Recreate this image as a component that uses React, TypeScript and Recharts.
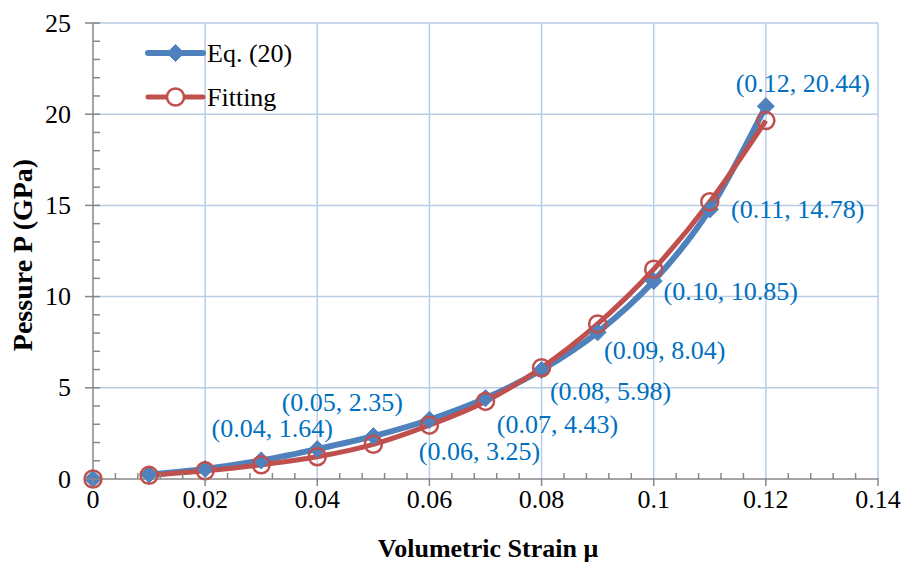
import React from 'react';
import {
  ComposedChart, Line, Scatter, XAxis, YAxis, CartesianGrid, LabelList, Customized,
} from 'recharts';

// ---------- data ----------
const strain = [0, 0.01, 0.02, 0.03, 0.04, 0.05, 0.06, 0.07, 0.08, 0.09, 0.1, 0.11, 0.12];
const eq20 = [0, 0.25, 0.55, 1.02, 1.64, 2.35, 3.25, 4.43, 5.98, 8.04, 10.85, 14.78, 20.44];
const fitting = [0, 0.2, 0.45, 0.78, 1.22, 1.9, 2.95, 4.25, 6.1, 8.5, 11.5, 15.2, 19.65];
const seriesNames = ['Eq. (20)', 'Fitting'];
const xMajorTicks = [0, 0.02, 0.04, 0.06, 0.08, 0.1, 0.12, 0.14];
const yMajorTicks = [0, 5, 10, 15, 20, 25];
const xTitle = 'Volumetric Strain μ';
const yTitle = 'Pessure P (GPa)';

// ---------- styles ----------
const BLUE = '#4F81BD';
const RED = '#C0504D';
const LABEL_BLUE = '#0070C0';
const GRID = '#B9CDE5';
const AXIS = '#878787';
const FONT = '"Liberation Serif", "Times New Roman", serif';
const FS = 26;
// label offsets (dx, dy) from the point, per row index
const LABEL_OFFSETS: (number[] | null)[] = [
  null, null, null, null,
  [-45, -21], [-31, -34], [50, 32], [72, 26], [69, 22], [67, 18], [77, 10], [88, 0], [37, -23],
];

const rows = strain.map((s, i) => ({
  strain: s,
  eq: eq20[i],
  fit: fitting[i],
  label: `(${s.toFixed(2)}, ${eq20[i].toFixed(2)})`,
}));
const lineRows = rows.slice(1);
const originRows = rows.slice(0, 1);

const xMinor: number[] = [];
for (let i = 0; i <= 35; i++) xMinor.push(Number((i * 0.004).toFixed(3)));
const yMinor: number[] = [];
for (let i = 0; i <= 25; i++) yMinor.push(i);

const isMajorX = (v: number) => xMajorTicks.some((m) => Math.abs(m - v) < 1e-9);
const isMajorY = (v: number) => yMajorTicks.some((m) => Math.abs(m - v) < 1e-9);

const XTick = (props: any) => {
  const { x, y, payload } = props;
  const v = payload.value;
  if (isMajorX(v)) {
    return (
      <g>
        <line x1={x} x2={x} y1={y - 1} y2={y + 7} stroke={AXIS} strokeWidth={1.5} />
        <text x={x} y={y + 29} textAnchor="middle" fontFamily={FONT} fontSize={FS} fill="#000">
          {String(Number(v.toFixed(3)))}
        </text>
      </g>
    );
  }
  return <line x1={x} x2={x} y1={y - 6} y2={y} stroke={AXIS} strokeWidth={1.5} />;
};

const YTick = (props: any) => {
  const { x, y, payload } = props;
  const v = payload.value;
  if (isMajorY(v)) {
    return (
      <g>
        <line x1={x - 8} x2={x + 7} y1={y} y2={y} stroke={AXIS} strokeWidth={1.5} />
        <text x={x - 22} y={y} textAnchor="end" dominantBaseline="central" fontFamily={FONT} fontSize={FS} fill="#000">
          {v}
        </text>
      </g>
    );
  }
  return <line x1={x} x2={x + 7} y1={y} y2={y} stroke={AXIS} strokeWidth={1.5} />;
};

const Diamond = (props: any) => {
  const { cx, cy } = props;
  if (cx == null || cy == null) return null;
  const s = 8.5;
  return <path d={`M${cx},${cy - s}L${cx + s},${cy}L${cx},${cy + s}L${cx - s},${cy}Z`} fill={BLUE} stroke={BLUE} strokeWidth={1} />;
};

const Ring = (props: any) => {
  const { cx, cy } = props;
  if (cx == null || cy == null) return null;
  return <circle cx={cx} cy={cy} r={8.5} fill="none" stroke={RED} strokeWidth={2.5} />;
};

const renderLabel = (props: any) => {
  const { x, y, index, value } = props;
  const off = LABEL_OFFSETS[index + 1];
  if (!off) return null;
  return (
    <text x={x + off[0]} y={y + off[1]} textAnchor="middle" dominantBaseline="central"
      fontFamily={FONT} fontSize={FS} fill={LABEL_BLUE}>
      {value}
    </text>
  );
};

const LegendBox = () => {
  const lx = 148, rx = 203, tx = 207;
  const y1 = 53, y2 = 97;
  return (
    <g>
      <line x1={lx} x2={rx} y1={y1} y2={y1} stroke={BLUE} strokeWidth={6} strokeLinecap="round" />
      <Diamond cx={(lx + rx) / 2} cy={y1} />
      <text x={tx} y={y1} dominantBaseline="central" fontFamily={FONT} fontSize={FS} fill="#000">{seriesNames[0]}</text>
      <line x1={lx} x2={rx} y1={y2} y2={y2} stroke={RED} strokeWidth={5} strokeLinecap="round" />
      <circle cx={(lx + rx) / 2} cy={y2} r={8.5} fill="#fff" stroke={RED} strokeWidth={2.5} />
      <text x={tx} y={y2} dominantBaseline="central" fontFamily={FONT} fontSize={FS} fill="#000">{seriesNames[1]}</text>
    </g>
  );
};

const Titles = () => (
  <g>
    <text x={488} y={557} textAnchor="middle" fontFamily={FONT} fontSize={FS} fontWeight="bold" fill="#000">{xTitle}</text>
    <text x={0} y={0} transform="translate(22,255) rotate(-90)" textAnchor="middle" dominantBaseline="central"
      fontFamily={FONT} fontSize={28} fontWeight="bold" fill="#000">{yTitle}</text>
  </g>
);

export default function App() {
  return (
    <div style={{ width: 902, height: 566, background: '#fff' }}>
      <style>{'body{margin:0;}'}</style>
      <ComposedChart width={902} height={566} margin={{ top: 23, right: 24, bottom: 0, left: 0 }}>
        <CartesianGrid stroke={GRID} strokeWidth={1.5}
          horizontalValues={[5, 10, 15, 20, 25]} verticalValues={[0.02, 0.04, 0.06, 0.08, 0.1, 0.12, 0.14]} />
        <XAxis type="number" dataKey="strain" domain={[0, 0.14]} ticks={xMinor} interval={0}
          tick={<XTick />} tickLine={false} tickSize={0} tickMargin={0} height={87}
          axisLine={{ stroke: AXIS, strokeWidth: 1.5 }} />
        <YAxis type="number" domain={[0, 25]} ticks={yMinor} interval={0}
          tick={<YTick />} tickLine={false} tickSize={0} tickMargin={0} width={93}
          axisLine={{ stroke: AXIS, strokeWidth: 1.5 }} />
        <Line data={lineRows} dataKey="eq" stroke={BLUE} strokeWidth={6} dot={<Diamond />} activeDot={false}
          isAnimationActive={false} type="monotone">
          <LabelList dataKey="label" content={renderLabel} />
        </Line>
        <Line data={lineRows} dataKey="fit" stroke={RED} strokeWidth={5} dot={<Ring />} activeDot={false}
          isAnimationActive={false} type="monotone" />
        <Scatter data={originRows} dataKey="eq" shape={<Diamond />} isAnimationActive={false} />
        <Scatter data={originRows} dataKey="fit" shape={<Ring />} isAnimationActive={false} />
        <Customized component={LegendBox} />
        <Customized component={Titles} />
      </ComposedChart>
    </div>
  );
}
